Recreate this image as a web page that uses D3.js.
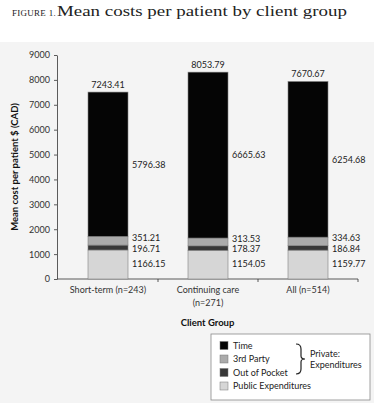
<!DOCTYPE html>
<html>
<head>
<meta charset="utf-8">
<script src="https://cdn.jsdelivr.net/npm/d3@7"></script>
<style>
  html, body { margin: 0; padding: 0; background: #fff; }
  svg { display: block; }
</style>
</head>
<body>
<div id="chart"></div>
<script>
// ---- data ----
const categories = ["Short-term (n=243)", "Continuing care (n=271)", "All (n=514)"];
const categoryLines = [["Short-term (n=243)"], ["Continuing care", "(n=271)"], ["All (n=514)"]];
const seriesKeys = ["Public Expenditures", "Out of Pocket", "3rd Party", "Time"];
const publicExpenditures = [1166.15, 1154.05, 1159.77];
const outOfPocket = [196.71, 178.37, 186.84];
const thirdParty = [351.21, 313.53, 334.63];
const timeCost = [5796.38, 6665.63, 6254.68];
const totalLabels = ["7243.41", "8053.79", "7670.67"];
const yTicks = [0, 1000, 2000, 3000, 4000, 5000, 6000, 7000, 8000, 9000];
const legendOrder = ["Time", "3rd Party", "Out of Pocket", "Public Expenditures"];

// ---- styles ----
const colors = {
  "Public Expenditures": "#d6d6d6",
  "Out of Pocket": "#383838",
  "3rd Party": "#ababab",
  "Time": "#050505"
};
const labelNudge = { "Public Expenditures": -1, "Out of Pocket": 1, "3rd Party": -3.5, "Time": 0 };
const sansFont = "Lato, 'Open Sans', sans-serif";

const W = 374, H = 403;
const svg = d3.select("#chart").append("svg").attr("width", W).attr("height", H);

// background panel
svg.append("rect").attr("x", 0).attr("y", 42).attr("width", W).attr("height", H - 42).attr("fill", "#f4f4f4");

// title
svg.append("text").attr("x", 12).attr("y", 16)
  .attr("font-family", "'Liberation Serif', 'DejaVu Serif', serif")
  .attr("font-size", 9).attr("letter-spacing", 0.3).attr("fill", "#222")
  .attr("textLength", 44).attr("lengthAdjust", "spacingAndGlyphs")
  .text("FIGURE 1.");
svg.append("text").attr("x", 57).attr("y", 16)
  .attr("font-family", "'Liberation Serif', 'DejaVu Serif', serif")
  .attr("font-size", 15.5).attr("fill", "#222")
  .attr("textLength", 290).attr("lengthAdjust", "spacingAndGlyphs")
  .text("Mean costs per patient by client group");

// table for stack
const table = categories.map((c, i) => ({
  category: c,
  "Public Expenditures": publicExpenditures[i],
  "Out of Pocket": outOfPocket[i],
  "3rd Party": thirdParty[i],
  "Time": timeCost[i]
}));
const stacked = d3.stack().keys(seriesKeys)(table);

const x = d3.scaleBand().domain(categories).range([58, 358]).paddingInner(0.6).paddingOuter(0.3);
const y = d3.scaleLinear().domain([0, 9000]).range([279, 55]);

// y axis
const yAxis = svg.append("g").attr("transform", "translate(57,0)")
  .call(d3.axisLeft(y).tickValues(yTicks).tickFormat(d3.format("d")).tickSize(3).tickSizeOuter(0).tickPadding(4));
yAxis.select(".domain").attr("stroke", "#333").attr("stroke-width", 0.8);
yAxis.selectAll(".tick line").attr("stroke", "#333").attr("stroke-width", 0.8);
yAxis.selectAll(".tick text").attr("font-family", sansFont).attr("font-size", 9).attr("fill", "#333");

// x axis (domain line + boundary ticks)
const xLeft = 57, xRight = x.range()[1];
svg.append("line").attr("x1", xLeft).attr("x2", xRight).attr("y1", y(0)).attr("y2", y(0))
  .attr("stroke", "#333").attr("stroke-width", 0.8);
const boundaries = categories.map(c => x(c) + x.bandwidth() + x.step() * x.paddingInner() / 2);
boundaries[boundaries.length - 1] = xRight;
svg.selectAll(".xtick").data(boundaries).join("line")
  .attr("x1", d => d).attr("x2", d => d).attr("y1", y(0)).attr("y2", y(0) + 3)
  .attr("stroke", "#333").attr("stroke-width", 0.8);

// category labels
const catG = svg.selectAll(".cat").data(categories).join("text")
  .attr("font-family", sansFont).attr("font-size", 9).attr("fill", "#333")
  .attr("text-anchor", "middle");
catG.each(function(c, i) {
  d3.select(this).selectAll("tspan").data(categoryLines[i]).join("tspan")
    .attr("x", x(c) + x.bandwidth() / 2)
    .attr("y", (d, j) => y(0) + 14 + j * 13)
    .text(d => d);
});

// axis titles
svg.append("text").attr("x", (xLeft + xRight) / 2).attr("y", 326).attr("text-anchor", "middle")
  .attr("font-family", sansFont).attr("font-weight", "bold").attr("font-size", 9.5).attr("fill", "#111")
  .text("Client Group");
svg.append("text").attr("transform", `translate(17.5,${(y(0) + y(9000)) / 2}) rotate(-90)`)
  .attr("text-anchor", "middle")
  .attr("font-family", sansFont).attr("font-weight", "bold").attr("font-size", 9.5).attr("fill", "#111")
  .text("Mean cost per patient $ (CAD)");

// bars
const layers = svg.selectAll(".layer").data(stacked).join("g")
  .attr("fill", d => colors[d.key]);
layers.selectAll("rect").data(d => d).join("rect")
  .attr("x", d => x(d.data.category))
  .attr("width", x.bandwidth())
  .attr("y", d => y(d[1]))
  .attr("height", d => y(d[0]) - y(d[1]))
  .attr("stroke", "#808080").attr("stroke-width", 0.6);

// segment value labels
stacked.forEach(layer => {
  svg.selectAll(null).data(layer).join("text")
    .attr("x", d => x(d.data.category) + x.bandwidth() + 4)
    .attr("y", d => (y(d[0]) + y(d[1])) / 2 + 3.3 + labelNudge[layer.key])
    .attr("font-family", sansFont).attr("font-size", 9).attr("fill", "#222")
    .text(d => d3.format(".2f")(d[1] - d[0]));
});

// total labels
svg.selectAll(".total").data(categories).join("text")
  .attr("x", c => x(c) + x.bandwidth() / 2)
  .attr("y", (c, i) => y(stacked[stacked.length - 1][i][1]) - 4)
  .attr("text-anchor", "middle")
  .attr("font-family", sansFont).attr("font-size", 9).attr("fill", "#222")
  .text((c, i) => totalLabels[i]);

// legend
const lg = svg.append("g");
lg.append("rect").attr("x", 211).attr("y", 334).attr("width", 159).attr("height", 66)
  .attr("fill", "#fff").attr("stroke", "#8a8a8a").attr("stroke-width", 0.8);
const legendY = d3.scalePoint().domain(legendOrder).range([345.5, 386]);
lg.selectAll(".sw").data(legendOrder).join("rect")
  .attr("x", 220).attr("y", d => legendY(d) - 4).attr("width", 8).attr("height", 8)
  .attr("fill", d => colors[d]).attr("stroke", "#777").attr("stroke-width", 0.5);
lg.selectAll(".lt").data(legendOrder).join("text")
  .attr("x", 233).attr("y", d => legendY(d) + 3.3)
  .attr("font-family", sansFont).attr("font-size", 9).attr("fill", "#222")
  .text(d => d);
// brace
const bt = legendY("Time") - 1.5, bb = legendY("Out of Pocket") + 1.5, bm = (bt + bb) / 2;
lg.append("path")
  .attr("d", `M296,${bt} Q301,${bt} 301,${bt + 5} L301,${bm - 3} Q301,${bm} 305,${bm} Q301,${bm} 301,${bm + 3} L301,${bb - 5} Q301,${bb} 296,${bb}`)
  .attr("fill", "none").attr("stroke", "#222").attr("stroke-width", 1.2);
lg.append("text").attr("x", 310).attr("y", 356.5)
  .attr("font-family", sansFont).attr("font-size", 9).attr("fill", "#222").text("Private:");
lg.append("text").attr("x", 310).attr("y", 367.5)
  .attr("font-family", sansFont).attr("font-size", 9).attr("fill", "#222").text("Expenditures");
</script>
</body>
</html>
